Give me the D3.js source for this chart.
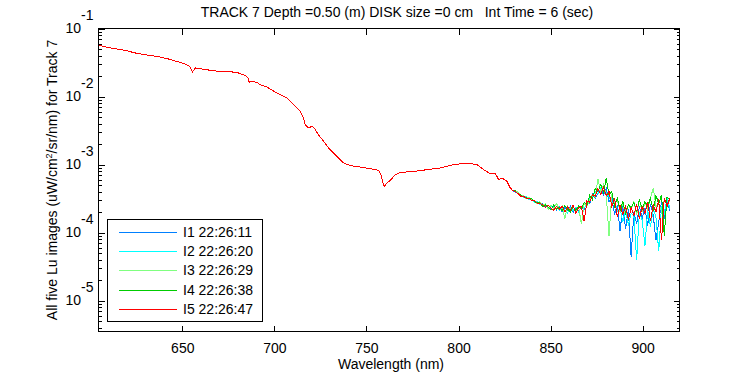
<!DOCTYPE html>
<html lang="en">
<head>
    <meta charset="UTF-8">
    <title>Track 7 Lu</title>
    <script src="https://d3js.org/d3.v7.min.js"></script>
    <style>
        body { margin: 0; background: #fff; }
        text {
            font-family: 'Liberation Sans', Arial, sans-serif;
            font-size: 14px;
            fill: #000;
        }
        .series { fill: none; stroke-width: 1; shape-rendering: crispEdges; }
        .frame { fill: none; stroke: #000; stroke-width: 1; shape-rendering: crispEdges; }
        .tick line, .domain { shape-rendering: crispEdges; }
    </style>
</head>
<body>
<script>
    const width  = 750;
    const height = 375;
    const margin = {top: 28, right: 71, bottom: 44, left: 98};

    // smooth part of the spectrum, shared by all five images (log10 of Lu)
    const wlCommon = [604.5, 608.1, 612.7, 619.0, 624.4, 631.7, 637.1, 642.5, 648.0, 651.6,
                      654.3, 655.8, 657.4, 662.5, 669.7, 677.0, 680.6, 684.2, 686.0, 686.5,
                      687.8, 690.5, 693.3, 696.0, 701.6, 707.1, 710.6, 714.3, 716.1, 717.0,
                      718.8, 720.6, 721.9, 724.2, 727.0, 729.7, 732.4, 735.1, 737.8, 741.5,
                      746.9, 752.3, 756.8, 758.1, 759.2, 759.9, 761.4, 763.2, 765.9, 768.6,
                      775.9, 783.1, 790.4, 797.6, 804.9, 810.3, 813.9, 817.5, 820.3, 822.1,
                      823.9, 826.6, 828.4, 829.5];
    const luCommonLog = [-1.243, -1.276, -1.301, -1.326, -1.365, -1.400, -1.419, -1.453, -1.497, -1.526,
                         -1.562, -1.644, -1.585, -1.610, -1.635, -1.644, -1.659, -1.694, -1.732, -1.797,
                         -1.782, -1.797, -1.841, -1.865, -1.953, -2.026, -2.125, -2.224, -2.321, -2.419,
                         -2.468, -2.444, -2.468, -2.566, -2.665, -2.762, -2.835, -2.909, -2.982, -3.022,
                         -3.041, -3.066, -3.091, -3.154, -3.276, -3.326, -3.276, -3.238, -3.154, -3.121,
                         -3.106, -3.081, -3.056, -3.007, -2.982, -3.007, -3.081, -3.140, -3.140, -3.228,
                         -3.203, -3.253, -3.350, -3.380];

    // noisy tail, one array per image (log10 of Lu)
    const wlTail = [831, 832.5, 834, 835.5, 837, 838.5, 840, 841.5, 843, 844.5,
                    846, 847.5, 849, 850.5, 852, 853.5, 855, 856.5, 858, 859.5,
                    861, 862.5, 864, 865.5, 867, 868.5, 870, 871.5, 873, 874.5,
                    876, 877.5, 879, 880.5, 882, 883.5, 885, 886.5, 888, 889.5,
                    891, 892.5, 894, 895.5, 897, 898.5, 900, 901.5, 903, 904.5,
                    906, 907.5, 909, 910.5, 912, 913.5, 915];
    const lu1TailLog = [-3.41, -3.42, -3.47, -3.47, -3.50, -3.49, -3.53, -3.55, -3.55, -3.60,
                        -3.58, -3.63, -3.60, -3.66, -3.61, -3.67, -3.62, -3.70, -3.63, -3.68,
                        -3.62, -3.71, -3.64, -3.69, -3.63, -3.66, -3.55, -3.58, -3.44, -3.50,
                        -3.42, -3.36, -3.45, -3.36, -3.55, -3.48, -3.74, -3.60, -3.98, -3.62,
                        -3.95, -3.66, -4.36, -3.70, -3.88, -3.62, -3.80, -3.64, -3.90, -3.58,
                        -3.75, -4.12, -3.85, -3.55, -3.80, -3.52, -3.68];
    const lu2TailLog = [-3.39, -3.44, -3.45, -3.49, -3.48, -3.52, -3.50, -3.56, -3.54, -3.59,
                        -3.61, -3.59, -3.65, -3.61, -3.66, -3.62, -3.68, -3.63, -3.67, -3.72,
                        -3.64, -3.68, -3.63, -3.70, -3.62, -3.64, -3.60, -3.50, -3.49, -3.40,
                        -3.44, -3.35, -3.40, -3.42, -3.48, -3.58, -3.52, -3.70, -3.64, -3.85,
                        -3.66, -3.90, -3.72, -3.75, -4.41, -3.70, -3.82, -4.20, -3.68, -3.92,
                        -3.66, -3.78, -4.28, -3.62, -3.72, -3.50, -3.65];
    const lu3TailLog = [-3.40, -3.41, -3.46, -3.46, -3.51, -3.48, -3.52, -3.53, -3.58, -3.55,
                        -3.61, -3.58, -3.66, -3.60, -3.65, -3.58, -3.66, -3.61, -3.80, -3.62,
                        -3.67, -3.62, -3.70, -3.63, -3.88, -3.58, -3.62, -3.52, -3.45, -3.48,
                        -3.22, -3.42, -3.30, -3.45, -4.06, -3.44, -3.58, -3.52, -3.70, -3.58,
                        -3.75, -3.60, -3.66, -3.55, -3.74, -3.52, -3.70, -3.56, -3.66, -3.50,
                        -3.35, -3.62, -3.58, -3.70, -3.52, -3.60, -3.54];
    const lu4TailLog = [-3.39, -3.44, -3.45, -3.48, -3.49, -3.51, -3.51, -3.55, -3.57, -3.57,
                        -3.62, -3.60, -3.63, -3.67, -3.60, -3.66, -3.63, -3.68, -3.61, -3.66,
                        -3.70, -3.63, -3.68, -3.61, -3.66, -3.56, -3.60, -3.46, -3.52, -3.36,
                        -3.40, -3.30, -3.42, -3.20, -3.46, -3.40, -3.62, -3.50, -3.68, -3.55,
                        -3.72, -3.60, -3.64, -3.56, -3.70, -3.52, -3.66, -3.55, -3.62, -3.50,
                        -3.68, -3.46, -3.58, -3.45, -4.05, -3.48, -3.52];
    const lu5TailLog = [-3.40, -3.43, -3.47, -3.47, -3.50, -3.50, -3.53, -3.53, -3.57, -3.58,
                        -3.59, -3.64, -3.60, -3.64, -3.68, -3.62, -3.66, -3.62, -3.70, -3.63,
                        -3.68, -3.60, -3.72, -3.64, -3.62, -3.84, -3.54, -3.56, -3.45, -3.47,
                        -3.36, -3.44, -3.34, -3.46, -3.40, -3.62, -3.50, -3.78, -3.60, -3.74,
                        -3.62, -3.82, -3.64, -3.76, -3.58, -3.80, -3.62, -3.72, -3.55, -3.84,
                        -3.60, -3.70, -3.52, -4.12, -3.50, -3.62, -3.50];

    const seriesNames  = ["I1 22:26:11", "I2 22:26:20", "I3 22:26:29", "I4 22:26:38", "I5 22:26:47"];
    const seriesColors = ["#0080ff", "#00ffff", "#80ff80", "#00cc00", "#ff0000"];
    const tails = [lu1TailLog, lu2TailLog, lu3TailLog, lu4TailLog, lu5TailLog];

    const xTicks = [650, 700, 750, 800, 850, 900];
    const yExponents = [-1, -2, -3, -4, -5];

    const series = tails.map((tail, i) => ({
        name: seriesNames[i],
        color: seriesColors[i],
        points: wlCommon.map((w, j) => ({wl: w, lu: Math.pow(10, luCommonLog[j])}))
            .concat(wlTail.map((w, j) => ({wl: w, lu: Math.pow(10, tail[j])})))
    }));

    const x = d3.scaleLinear().domain([604.5, 920]).range([margin.left, width - margin.right]);
    const y = d3.scaleLog().domain([Math.pow(10, -5.45), 0.1]).range([height - margin.bottom, margin.top]);

    const svg = d3.select("body").append("svg").attr("width", width).attr("height", height);
    svg.append("rect").attr("width", width).attr("height", height).attr("fill", "#fff");

    svg.append("clipPath").attr("id", "plot")
        .append("rect")
        .attr("x", margin.left).attr("y", margin.top)
        .attr("width", width - margin.left - margin.right)
        .attr("height", height - margin.top - margin.bottom);

    const line = d3.line().x(d => x(d.wl)).y(d => y(d.lu));

    svg.append("g").attr("clip-path", "url(#plot)")
        .selectAll("path").data(series).join("path")
        .attr("class", "series")
        .attr("stroke", d => d.color)
        .attr("d", d => line(d.points));

    // frame
    svg.append("rect").attr("class", "frame")
        .attr("x", margin.left + 0.5).attr("y", margin.top + 0.5)
        .attr("width", width - margin.left - margin.right)
        .attr("height", height - margin.top - margin.bottom);

    // x ticks, bottom and top, pointing inward
    const bottom = height - margin.bottom;
    const xAxis = d3.axisBottom(x).tickValues(xTicks).tickSize(-6).tickPadding(12).tickFormat(d3.format("d"));
    const gx = svg.append("g").attr("transform", `translate(0.5,${bottom + 0.5})`).call(xAxis);
    gx.select(".domain").remove();
    gx.selectAll("text").attr("font-size", 14).attr("font-family", null);
    const gxt = svg.append("g").attr("transform", `translate(0.5,${margin.top + 0.5})`)
        .call(d3.axisTop(x).tickValues(xTicks).tickSize(-6).tickFormat(""));
    gxt.select(".domain").remove();

    // y ticks, majors and minors on both sides
    const minor = y.ticks().filter(v => Math.abs(Math.log10(v) - Math.round(Math.log10(v))) > 1e-6);
    const major = yExponents.map(e => Math.pow(10, e));
    const right = width - margin.right;
    [[d3.axisLeft, margin.left], [d3.axisRight, right]].forEach(([ax, pos]) => {
        const g1 = svg.append("g").attr("transform", `translate(${pos + 0.5},0.5)`)
            .call(ax(y).tickValues(major).tickSize(-6).tickFormat(""));
        g1.select(".domain").remove();
        const g2 = svg.append("g").attr("transform", `translate(${pos + 0.5},0.5)`)
            .call(ax(y).tickValues(minor).tickSize(-3).tickFormat(""));
        g2.select(".domain").remove();
    });

    // y tick labels as 10 with raised exponent
    const yl = svg.append("g").selectAll("g").data(yExponents).join("g");
    yl.append("text")
        .attr("x", 81).attr("y", e => y(Math.pow(10, e)) + 5)
        .attr("text-anchor", "end")
        .text("10");
    yl.append("text")
        .attr("x", 81).attr("y", e => y(Math.pow(10, e)) - 8)
        .text(e => e);

    // title and axis labels
    svg.append("text").attr("x", 397).attr("y", 17).attr("text-anchor", "middle")
        .attr("xml:space", "preserve")
        .text("TRACK 7 Depth =0.50 (m) DISK size =0 cm   Int Time = 6 (sec)");
    svg.append("text").attr("x", 391).attr("y", 369).attr("text-anchor", "middle")
        .text("Wavelength (nm)");
    const ylab = svg.append("text")
        .attr("transform", "translate(57,180) rotate(-90)")
        .attr("text-anchor", "middle")
        .attr("font-size", 13.5);
    ylab.append("tspan").text("All five Lu images (uW/cm");
    ylab.append("tspan").attr("dy", -5).attr("font-size", 9).text("2");
    ylab.append("tspan").attr("dy", 5).text("/sr/nm) for Track 7");

    // legend
    const lg = svg.append("g");
    lg.append("rect").attr("class", "frame")
        .attr("x", 107.5).attr("y", 219.5).attr("width", 155).attr("height", 102);
    const rows = lg.selectAll("g.row").data(series).join("g").attr("class", "row")
        .attr("transform", (d, i) => `translate(0,${232 + i * 19.2})`);
    rows.append("line")
        .attr("x1", 119).attr("x2", 177).attr("y1", 0.5).attr("y2", 0.5)
        .attr("stroke", d => d.color).attr("shape-rendering", "crispEdges");
    rows.append("text").attr("x", 183).attr("y", 5).text(d => d.name);
</script>
</body>
</html>
